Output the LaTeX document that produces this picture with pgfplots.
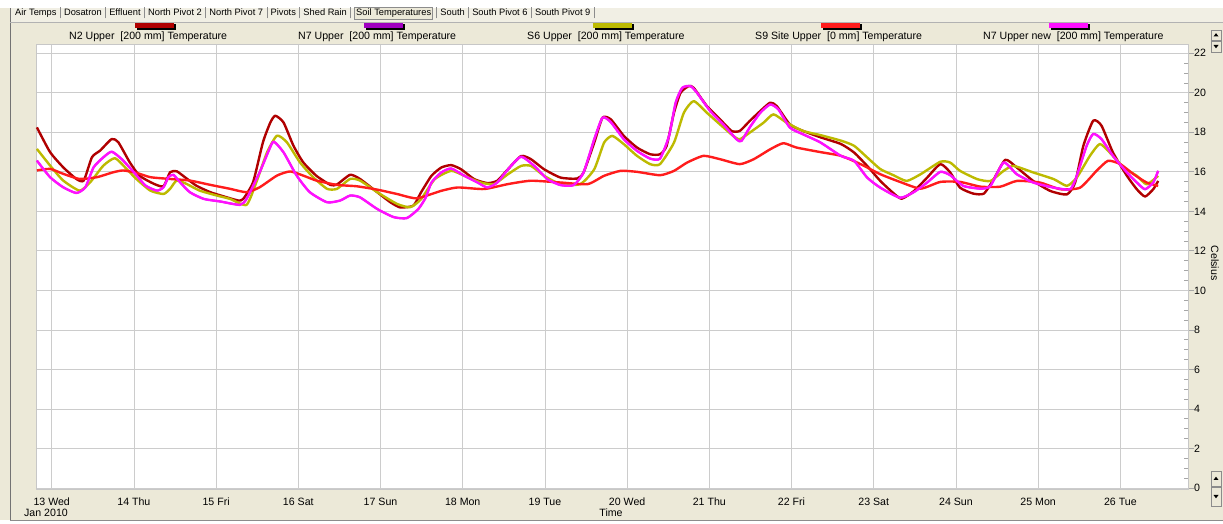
\documentclass[border=0pt]{standalone}
\usepackage{pgfplots}
\pgfplotsset{compat=1.18}
\usepackage{fontspec}
\setmainfont{Liberation Sans}
\definecolor{panel}{HTML}{ECE9D8}
\definecolor{tabrow}{HTML}{F1EFE4}
\definecolor{cN2}{HTML}{B00000}
\definecolor{cN7}{HTML}{A000C0}
\definecolor{cS6}{HTML}{BDBA00}
\definecolor{cS9}{HTML}{FF1C1C}
\definecolor{cN7n}{HTML}{FF10FF}
\newcommand{\lf}{\fontsize{10.6}{12}\selectfont}
\newcommand{\tsep}{\hspace{3.4pt}\textcolor{black!45}{\rule[-2.5pt]{0.7pt}{11pt}}\hspace{3.4pt}}

\pgfplotstableread{
x y
12.82 18.25
12.98 17.0
13.14 16.23
13.30 15.64
13.39 15.56
13.49 16.74
13.59 17.08
13.73 17.66
13.81 17.5
13.95 16.48
14.07 15.8
14.24 15.4
14.36 15.27
14.44 15.98
14.52 16.03
14.62 15.73
14.76 15.3
14.93 14.97
15.13 14.71
15.27 14.55
15.33 14.63
15.45 15.48
15.57 17.5
15.66 18.5
15.72 18.84
15.82 18.5
15.94 17.33
16.06 16.48
16.22 15.8
16.39 15.34
16.47 15.36
16.63 15.85
16.75 15.64
16.96 14.97
17.12 14.46
17.24 14.2
17.40 14.29
17.49 14.94
17.62 15.8
17.74 16.22
17.86 16.34
17.98 16.13
18.14 15.63
18.30 15.43
18.42 15.55
18.55 16.13
18.71 16.8
18.83 16.64
18.99 16.13
19.19 15.71
19.39 15.66
19.47 15.97
19.60 17.48
19.70 18.74
19.80 18.66
19.96 17.82
20.12 17.23
20.28 16.89
20.40 16.89
20.48 17.31
20.57 18.99
20.65 20.0
20.75 20.34
20.81 20.25
20.97 19.33
21.13 18.66
21.27 18.07
21.37 18.07
21.49 18.57
21.62 19.08
21.74 19.5
21.82 19.33
21.98 18.4
22.14 18.07
22.35 17.75
22.60 17.41
22.76 16.98
22.92 16.3
23.08 15.54
23.24 14.92
23.34 14.64
23.49 15.03
23.65 15.71
23.81 16.39
23.93 15.97
24.05 15.2
24.21 14.9
24.34 14.9
24.46 15.63
24.60 16.61
24.74 16.22
24.94 15.54
25.15 15.03
25.35 14.86
25.45 15.46
25.55 17.32
25.67 18.59
25.77 18.34
25.91 16.98
26.08 15.8
26.20 15.12
26.30 14.75
26.40 15.12
26.46 15.54
}\tN

\pgfplotstableread{
x y
12.82 17.16
12.98 16.32
13.14 15.56
13.34 15.05
13.47 15.48
13.63 16.32
13.77 16.69
13.91 16.15
14.03 15.64
14.20 15.05
14.36 14.88
14.44 15.14
14.52 15.56
14.64 15.39
14.80 15.05
15.01 14.8
15.17 14.63
15.37 14.33
15.49 15.48
15.62 16.99
15.74 17.83
15.86 17.5
16.02 16.48
16.18 15.73
16.35 15.14
16.47 15.14
16.63 15.64
16.75 15.56
16.96 14.97
17.20 14.38
17.36 14.21
17.49 14.6
17.66 15.63
17.86 16.05
18.02 15.8
18.22 15.46
18.38 15.38
18.55 15.88
18.71 16.3
18.83 16.3
18.99 15.8
19.19 15.38
19.43 15.38
19.60 16.13
19.72 17.48
19.82 17.82
19.96 17.4
20.12 16.81
20.28 16.39
20.40 16.39
20.57 17.48
20.69 18.99
20.81 19.58
20.97 18.99
21.13 18.4
21.29 17.82
21.37 17.65
21.49 17.98
21.66 18.49
21.78 18.91
21.94 18.49
22.14 18.07
22.35 17.86
22.60 17.58
22.76 17.32
22.92 16.73
23.08 16.14
23.24 15.83
23.40 15.54
23.57 15.88
23.81 16.51
23.93 16.47
24.05 16.05
24.26 15.63
24.42 15.54
24.58 16.05
24.70 16.3
24.94 15.97
25.19 15.63
25.35 15.29
25.47 15.71
25.63 16.81
25.75 17.41
25.87 16.98
26.04 16.22
26.20 15.8
26.32 15.37
26.46 15.8
}\tS

\pgfplotstableread{
x y
12.82 16.07
12.98 16.15
13.14 15.9
13.34 15.64
13.55 15.73
13.75 15.98
13.87 16.07
14.03 15.95
14.20 15.73
14.44 15.64
14.68 15.56
14.93 15.34
15.17 15.14
15.37 14.97
15.53 15.22
15.74 15.81
15.90 16.02
16.06 15.81
16.22 15.56
16.47 15.34
16.71 15.27
16.96 15.1
17.20 14.88
17.44 14.66
17.74 15.04
17.94 15.21
18.26 15.13
18.55 15.38
18.83 15.55
19.19 15.46
19.52 15.38
19.72 15.8
19.92 16.05
20.12 16.0
20.40 15.83
20.57 16.05
20.73 16.47
20.93 16.81
21.13 16.64
21.37 16.39
21.54 16.64
21.74 17.14
21.90 17.45
22.06 17.23
22.35 17.0
22.60 16.81
22.84 16.39
23.08 15.88
23.32 15.49
23.57 15.15
23.81 15.49
24.05 15.49
24.30 15.25
24.54 15.25
24.74 15.54
25.02 15.46
25.27 15.12
25.51 15.2
25.71 16.05
25.85 16.56
26.00 16.39
26.16 15.88
26.32 15.46
26.46 15.29
}\tR

\pgfplotstableread{
x y
12.82 16.57
12.98 15.73
13.14 15.22
13.30 14.93
13.41 15.22
13.51 16.23
13.63 16.74
13.73 17.02
13.85 16.65
14.00 15.98
14.14 15.31
14.28 15.05
14.36 15.22
14.42 15.73
14.48 15.85
14.56 15.48
14.68 14.97
14.85 14.63
15.05 14.5
15.29 14.33
15.37 14.63
15.53 15.98
15.64 17.07
15.70 17.53
15.82 16.99
15.98 15.81
16.14 14.97
16.35 14.46
16.51 14.55
16.63 14.8
16.75 14.71
16.96 14.12
17.16 13.71
17.32 13.66
17.46 14.12
17.55 14.7
17.62 15.46
17.74 15.97
17.86 16.17
18.02 15.8
18.18 15.46
18.30 15.21
18.42 15.46
18.57 16.22
18.71 16.77
18.87 16.3
19.03 15.63
19.19 15.33
19.35 15.33
19.47 15.97
19.60 17.65
19.70 18.74
19.80 18.52
19.96 17.65
20.12 17.06
20.28 16.67
20.40 16.67
20.51 17.82
20.59 19.5
20.67 20.25
20.77 20.34
20.85 20.0
21.01 19.08
21.17 18.4
21.33 17.65
21.39 17.56
21.49 18.24
21.62 18.99
21.74 19.41
21.84 19.16
21.98 18.24
22.14 17.9
22.35 17.49
22.60 16.81
22.76 16.56
22.92 15.71
23.08 15.2
23.32 14.69
23.49 14.98
23.65 15.46
23.81 16.0
23.93 15.83
24.09 15.29
24.30 15.15
24.42 15.29
24.58 16.47
24.74 15.88
24.94 15.46
25.19 15.2
25.39 15.12
25.47 15.8
25.59 17.32
25.67 17.92
25.77 17.66
25.91 16.81
26.08 15.97
26.20 15.46
26.30 15.12
26.40 15.46
26.46 16.05
}\tM

\begin{document}
\begin{tikzpicture}[x=1pt,y=1pt]
\useasboundingbox (0,0) rectangle (1223,524);
\fill[panel] (0,0) rectangle (1223,524);
\fill[white] (0,516) rectangle (1223,524);
\fill[tabrow] (10,502) rectangle (1223,516);
\fill[white] (0,0) rectangle (1223,4);
\draw[black!55, line width=0.8pt] (10,4) -- (10,516);
\draw[black!45, line width=0.8pt] (10,4) -- (1223,4);
\draw[black!30, line width=0.6pt] (10,502) -- (1223,502);

% tabs
\node[anchor=west, inner sep=0pt, font=\fontsize{9.3}{11}\selectfont] at (15,510.5)
 {Air Temps\tsep Dosatron\tsep Effluent\tsep North Pivot 2\tsep North Pivot 7\tsep Pivots\tsep Shed Rain\tsep{\fboxsep=1.2pt\fboxrule=0.6pt\fcolorbox{black!45}{panel}{Soil Temperatures}}\tsep South\tsep South Pivot 6\tsep South Pivot 9\tsep};

\begin{axis}[
  at={(36pt,35pt)}, anchor=south west,
  width=1152pt, height=445pt, scale only axis,
  xmin=12.809, xmax=26.823, ymin=-0.05, ymax=22.47,
  axis background/.style={fill=white},
  axis line style={draw=black!22, line width=0.8pt},
  grid style={draw=black!20, line width=0.8pt},
  xmajorgrids, ymajorgrids,
  xtick={13,...,26},
  xticklabels={13 Wed,14 Thu,15 Fri,16 Sat,17 Sun,18 Mon,19 Tue,20 Wed,21 Thu,22 Fri,23 Sat,24 Sun,25 Mon,26 Tue},
  x tick style={draw=none},
  ytick={0,2,...,22},
  minor y tick num=3,
  ytick pos=right, yticklabel pos=right,
  tick align=outside,
  major tick length=6pt, minor tick length=4pt,
  y tick style={draw=black!35, line width=0.8pt},
  minor y tick style={xshift=-4pt},
  ticklabel style={font=\lf},
  yticklabel style={anchor=west, inner sep=0pt},
  xticklabel style={anchor=north, inner sep=0pt, yshift=-3pt},
  /pgf/number format/assume math mode=true,
  line join=round,
  every axis plot/.append style={line width=2.4pt, smooth, tension=0.35, no markers},
]
\addplot[cN2] table {\tN};
\addplot[cN7, line width=1.8pt] table {\tM};
\addplot[cS6] table {\tS};
\addplot[cS9] table {\tR};
\addplot[cN7n] table {\tM};
\end{axis}

% legend
\foreach \s/\c/\t in {69/cN2/{N2 Upper\ \ [200 mm] Temperature},
                      298/cN7/{N7 Upper\ \ [200 mm] Temperature},
                      527/cS6/{S6 Upper\ \ [200 mm] Temperature},
                      755/cS9/{S9 Site Upper\ \ [0 mm] Temperature},
                      983/cN7n/{N7 Upper new\ \ [200 mm] Temperature}} {
  \fill[black] (\s+67.5,494) rectangle (\s+106.5,499.5);
  \fill[\c] (\s+66,495.5) rectangle (\s+104.5,500.5);
  \node[anchor=west, inner sep=0pt, font=\lf] at (\s,487) {\t};
}

\node[font=\lf] at (46,11) {Jan 2010};
\node[font=\lf] at (611,11) {Time};
\node[font=\lf, rotate=-90] at (1215,261) {Celsius};

% scroll buttons
\foreach \ya/\yb/\up in {484/494/1, 472/483/0, 38/53/1, 18/37/0} {
  \draw[black!45, fill=panel, line width=0.6pt] (1211,\ya) rectangle (1221,\yb);
  \pgfmathsetmacro{\cy}{(\ya+\yb)/2}
  \ifnum\up=1
    \fill[black] (1213.5,\cy-1.5) -- (1218.5,\cy-1.5) -- (1216,\cy+1.8) -- cycle;
  \else
    \fill[black] (1213.5,\cy+1.5) -- (1218.5,\cy+1.5) -- (1216,\cy-1.8) -- cycle;
  \fi
}
\end{tikzpicture}
\end{document}
